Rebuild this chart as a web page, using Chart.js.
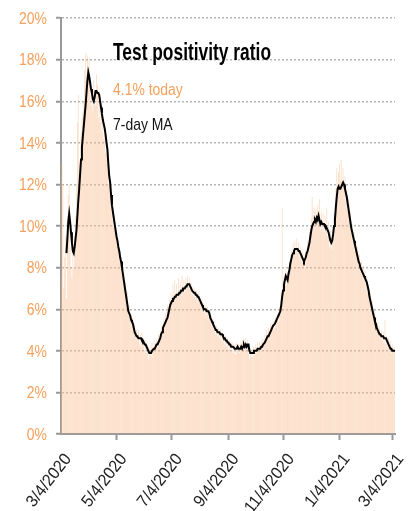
<!DOCTYPE html>
<html>
<head>
<meta charset="utf-8">
<script src="https://cdn.jsdelivr.net/npm/chart.js@4"></script>
<style>
  html, body { margin: 0; padding: 0; background: #fff; }
  #wrap { width: 415px; height: 511px; }
</style>
</head>
<body>
<div id="wrap"><canvas id="positivityChart" width="415" height="511"></canvas></div>
<script>
// Test positivity, daily ratio (%) from 3/4/2020, one value per day
const dailyRatio = [
  7.5, 13.0, 12.0, 7.0, 8.5, 9.5, 6.5,
  10.5, 11.5, 12.0, 9.0, 8.0, 7.5, 9.0,
  8.0, 9.5, 10.5, 12.0, 15.0, 16.3, 11.0,
  13.0, 14.5, 15.2, 15.5, 16.0, 17.5, 18.3,
  16.8, 18.2, 17.6, 18.1, 17.0, 15.8, 16.5,
  15.5, 17.0, 16.5, 15.8, 17.3, 16.8, 15.2,
  16.5, 15.0, 15.8, 14.5, 15.2, 14.2, 14.8,
  13.5, 14.0, 13.2, 12.0, 12.5, 11.5, 12.0,
  10.8, 11.2, 10.0, 10.5, 9.5, 9.8, 9.0,
  9.2, 8.5, 8.8, 8.0, 8.3, 7.5, 7.8,
  7.0, 7.3, 6.5, 6.8, 5.8, 6.2, 5.5,
  5.8, 5.2, 5.6, 5.0, 5.3, 4.6, 5.0,
  4.5, 5.0, 4.3, 4.8, 4.2, 4.9, 4.4,
  4.6, 4.0, 4.5, 3.9, 4.3, 3.6, 4.2,
  3.8, 4.3, 3.7, 4.4, 4.0, 4.5, 4.1,
  4.6, 4.2, 4.8, 4.4, 5.0, 4.7, 5.3,
  5.0, 5.6, 5.2, 5.8, 5.4, 6.2, 5.8,
  6.5, 6.0, 6.8, 6.3, 7.2, 6.4, 7.4,
  6.5, 7.2, 6.6, 7.5, 6.8, 7.3, 6.9,
  7.6, 7.0, 7.4, 6.8, 7.5, 7.2, 7.6,
  7.1, 7.5, 7.0, 7.3, 6.7, 7.1, 6.6,
  7.0, 6.5, 6.9, 6.4, 6.8, 6.3, 6.6,
  6.1, 6.5, 5.9, 6.3, 5.8, 6.2, 5.7,
  6.1, 5.6, 5.9, 5.4, 5.7, 5.2, 5.5,
  5.0, 5.4, 4.8, 5.2, 4.7, 5.1, 4.6,
  5.0, 4.5, 4.9, 4.4, 4.8, 4.3, 4.7,
  4.2, 4.6, 4.1, 4.5, 4.0, 4.4, 3.9,
  4.4, 3.9, 4.3, 3.8, 4.4, 4.0, 4.3,
  3.9, 4.4, 4.0, 4.5, 4.1, 4.6, 4.2,
  4.6, 4.0, 4.5, 3.9, 3.6, 4.1, 3.7,
  4.1, 3.7, 4.2, 3.8, 4.3, 3.9, 4.4,
  4.0, 4.4, 4.0, 4.5, 4.1, 4.6, 4.3,
  4.8, 4.4, 5.0, 4.6, 5.1, 4.7, 5.3,
  4.9, 5.4, 5.0, 5.5, 5.1, 5.7, 5.3,
  5.8, 5.4, 6.1, 5.8, 6.8, 10.9, 7.1,
  7.6, 7.1, 7.9, 7.2, 7.8, 7.6, 8.3,
  8.0, 8.8, 8.5, 9.2, 8.7, 9.3, 8.8,
  9.4, 8.7, 9.2, 8.5, 9.0, 8.3, 8.9,
  8.1, 8.7, 8.0, 8.9, 8.4, 9.3, 9.0,
  9.7, 9.3, 10.4, 11.4, 10.3, 10.9, 10.0,
  10.8, 10.1, 11.0, 10.2, 11.3, 9.8, 10.7,
  9.9, 10.6, 9.7, 10.5, 9.8, 10.9, 9.5,
  10.2, 9.0, 9.8, 8.9, 9.6, 9.4, 10.6,
  10.6, 11.8, 12.8, 11.5, 12.6, 13.0, 12.2,
  13.2, 12.0, 12.8, 11.8, 12.4, 11.2, 11.8,
  10.8, 11.3, 10.2, 10.7, 9.6, 10.1, 9.2,
  9.7, 8.8, 9.3, 8.5, 9.0, 8.1, 8.6,
  7.8, 8.3, 7.6, 8.1, 7.4, 7.9, 7.2,
  7.6, 6.8, 7.2, 6.4, 6.8, 6.0, 6.4,
  5.7, 6.1, 5.3, 5.7, 5.0, 5.4, 4.8,
  5.2, 4.6, 5.0, 4.5, 4.9, 4.4, 5.5,
  4.3, 4.7, 4.2, 4.6, 4.0, 4.5, 3.9,
  4.3, 4.0, 4.2, 4.1
];

// 7-day moving average (%), same days
const movingAvg = [
  null, null, null, null, null, null, 8.7,
  9.4, 10.2, 10.6, 10.2, 9.7, 9.2, 8.8,
  8.7, 9.0, 9.4, 9.8, 10.5, 11.2, 11.8,
  12.5, 13.2, 13.8, 14.3, 14.8, 15.3, 15.8,
  16.4, 17.0, 17.4, 17.2, 16.9, 16.6, 16.4,
  16.1, 16.0, 16.2, 16.5, 16.5, 16.4, 16.4,
  16.3, 16.0, 15.7, 15.4, 15.1, 14.9, 14.7,
  14.4, 14.0, 13.7, 13.0, 12.4, 12.1, 11.5,
  11.0, 10.7, 10.4, 10.1, 9.8, 9.5, 9.3,
  9.0, 8.8, 8.5, 8.3, 8.0, 7.7, 7.4,
  7.1, 6.8, 6.5, 6.2, 5.9, 5.8, 5.7,
  5.5, 5.4, 5.3, 5.1, 4.9, 4.8, 4.7,
  4.7, 4.6, 4.6, 4.6, 4.6, 4.5, 4.5,
  4.4, 4.3, 4.3, 4.2, 4.1, 4.0, 3.9,
  3.9, 3.9, 4.0, 4.0, 4.1, 4.1, 4.2,
  4.3, 4.3, 4.4, 4.5, 4.6, 4.8, 4.9,
  5.1, 5.2, 5.3, 5.4, 5.5, 5.6, 5.8,
  6.0, 6.2, 6.3, 6.4, 6.5, 6.5, 6.6,
  6.6, 6.7, 6.7, 6.7, 6.8, 6.8, 6.9,
  6.9, 7.0, 7.0, 7.0, 7.1, 7.1, 7.2,
  7.2, 7.2, 7.1, 7.0, 6.9, 6.9, 6.8,
  6.8, 6.7, 6.7, 6.6, 6.6, 6.5, 6.4,
  6.3, 6.2, 6.1, 6.0, 6.0, 6.0, 5.9,
  5.9, 5.9, 5.8, 5.6, 5.5, 5.4, 5.3,
  5.2, 5.1, 5.0, 5.0, 4.9, 4.9, 4.9,
  4.8, 4.8, 4.8, 4.7, 4.6, 4.6, 4.5,
  4.5, 4.4, 4.4, 4.3, 4.3, 4.2, 4.2,
  4.2, 4.2, 4.1, 4.1, 4.1, 4.2, 4.1,
  4.1, 4.1, 4.2, 4.1, 4.2, 4.3, 4.2,
  4.3, 4.2, 4.3, 4.3, 4.0, 3.9, 3.9,
  3.9, 3.9, 4.0, 4.0, 4.0, 4.0, 4.1,
  4.1, 4.1, 4.1, 4.2, 4.2, 4.3, 4.3,
  4.4, 4.5, 4.6, 4.7, 4.7, 4.8, 4.9,
  5.0, 5.1, 5.2, 5.2, 5.3, 5.4, 5.5,
  5.6, 5.7, 5.8, 5.9, 6.2, 6.6, 6.9,
  7.2, 7.4, 7.6, 7.5, 7.4, 7.7, 7.9,
  8.2, 8.4, 8.6, 8.7, 8.8, 8.9, 8.9,
  8.9, 8.9, 8.8, 8.8, 8.7, 8.6, 8.5,
  8.4, 8.3, 8.4, 8.5, 8.7, 8.8, 9.0,
  9.2, 9.5, 9.8, 10.0, 10.1, 10.2, 10.3,
  10.2, 10.4, 10.3, 10.5, 10.3, 10.1, 10.2,
  10.1, 10.1, 10.1, 10.0, 10.0, 9.9, 9.8,
  9.7, 9.5, 9.3, 9.2, 9.3, 9.6, 10.0,
  10.3, 10.9, 11.4, 11.8, 11.9, 11.8, 11.8,
  11.9, 12.0, 12.1, 12.0, 11.8, 11.6, 11.4,
  11.1, 10.8, 10.5, 10.2, 9.9, 9.7, 9.5,
  9.3, 9.1, 8.9, 8.7, 8.5, 8.3, 8.2,
  8.0, 7.9, 7.8, 7.7, 7.6, 7.5, 7.4,
  7.3, 7.1, 6.9, 6.6, 6.4, 6.2, 6.0,
  5.8, 5.6, 5.4, 5.3, 5.1, 5.0, 4.9,
  4.8, 4.8, 4.7, 4.7, 4.7, 4.6, 4.6,
  4.6, 4.5, 4.4, 4.3, 4.2, 4.1, 4.1,
  4.0, 4.0, 4.0, 4.0
];

// x ticks shown every two months
const tickLabels = ['3/4/2020', '5/4/2020', '7/4/2020', '9/4/2020', '11/4/2020', '1/4/2021', '3/4/2021'];

const titleText = 'Test positivity ratio';
const todayText = '4.1% today';
const maText = '7-day MA';

// no narrow font installed -> squeeze Liberation Sans sideways
const FONT = '"Liberation Sans", Arial, sans-serif';
const NARROW = 0.82;
const ORANGE = '#f5a05c';

// one category per day, starting 3/4/2020
const dayLabels = dailyRatio.map(function (v, i) {
    const d = new Date(2020, 2, 4 + i);
    return (d.getMonth() + 1) + '/' + d.getDate() + '/' + d.getFullYear();
});

function narrowText(ctx, text, x, y, sx, angle) {
    ctx.save();
    ctx.translate(x, y);
    if (angle) ctx.rotate(angle);
    ctx.scale(sx, 1);
    ctx.fillText(text, 0, 0);
    ctx.restore();
}

// axis labels + titles, drawn condensed
const textPlugin = {
    id: 'narrowText',
    afterDraw(chart) {
        const ctx = chart.ctx;
        const xs = chart.scales.x;
        const ys = chart.scales.y;
        const area = chart.chartArea;
        ctx.save();

        // y labels
        ctx.font = '17px ' + FONT;
        ctx.fillStyle = ORANGE;
        ctx.textAlign = 'right';
        ctx.textBaseline = 'middle';
        ys.ticks.forEach(function (t, i) {
            narrowText(ctx, t.value + '%', area.left - 14, ys.getPixelForTick(i) + 1, NARROW);
        });

        // x labels, rotated
        ctx.fillStyle = '#222';
        ctx.textBaseline = 'alphabetic';
        xs.ticks.forEach(function (t, i) {
            const lab = dayLabels[t.value];
            if (!tickLabels.includes(lab)) return;
            narrowText(ctx, lab, xs.getPixelForTick(i) + 11, area.bottom + 25, 0.94, -52 * Math.PI / 180);
        });

        // titles
        const x = area.left + 52;
        ctx.textAlign = 'left';
        ctx.fillStyle = '#000';
        ctx.font = 'bold 24px ' + FONT;
        const w = ctx.measureText(titleText).width;
        narrowText(ctx, titleText, x, 60, 158 / w);
        ctx.font = '17px ' + FONT;
        ctx.fillStyle = ORANGE;
        narrowText(ctx, todayText, x, 95, NARROW);
        ctx.fillStyle = '#111';
        narrowText(ctx, maText, x, 130, NARROW);
        ctx.restore();
    }
};

Chart.defaults.font.family = FONT;

new Chart(document.getElementById('positivityChart'), {
    type: 'bar',
    data: {
        labels: dayLabels,
        datasets: [
            {
                type: 'line',
                label: '7-day MA',
                data: movingAvg,
                borderColor: '#000',
                borderWidth: 2,
                pointRadius: 0,
                tension: 0,
                order: 0
            },
            {
                type: 'bar',
                label: 'Daily',
                data: dailyRatio,
                backgroundColor: 'rgba(250, 190, 145, 0.55)',
                barPercentage: 0.85,
                categoryPercentage: 1,
                order: 1
            }
        ]
    },
    options: {
        responsive: false,
        animation: false,
        devicePixelRatio: 1,
        layout: { padding: { top: 10, right: 20, left: 0, bottom: 0 } },
        plugins: {
            legend: { display: false },
            tooltip: { enabled: false }
        },
        scales: {
            x: {
                offset: false,
                afterFit: function (scale) { scale.height = 77; },
                border: { color: '#999', width: 2 },
                grid: {
                    drawOnChartArea: false,
                    tickLength: 6,
                    tickWidth: 2,
                    tickColor: function (c) {
                        return tickLabels.includes(dayLabels[c.index]) ? '#999' : 'rgba(0,0,0,0)';
                    }
                },
                ticks: {
                    autoSkip: false,
                    minRotation: 50,
                    maxRotation: 50,
                    padding: 2,
                    color: 'rgba(0,0,0,0)',
                    font: { size: 17 },
                    callback: function (value) {
                        const lab = this.getLabelForValue(value);
                        return tickLabels.includes(lab) ? lab : '';
                    }
                }
            },
            y: {
                min: 0,
                max: 20,
                afterFit: function (scale) { scale.width = 61; },
                border: { color: '#999', width: 2, dash: [2, 2] },
                grid: {
                    color: '#b5b5b5',
                    lineWidth: 1.5,
                    tickLength: 5,
                    tickColor: '#999',
                    tickWidth: 2,
                    tickBorderDash: []
                },
                ticks: {
                    stepSize: 2,
                    padding: 8,
                    color: 'rgba(0,0,0,0)',
                    font: { size: 17 },
                    callback: function (v) { return v + '%'; }
                }
            }
        }
    },
    plugins: [textPlugin]
});
</script>
</body>
</html>
